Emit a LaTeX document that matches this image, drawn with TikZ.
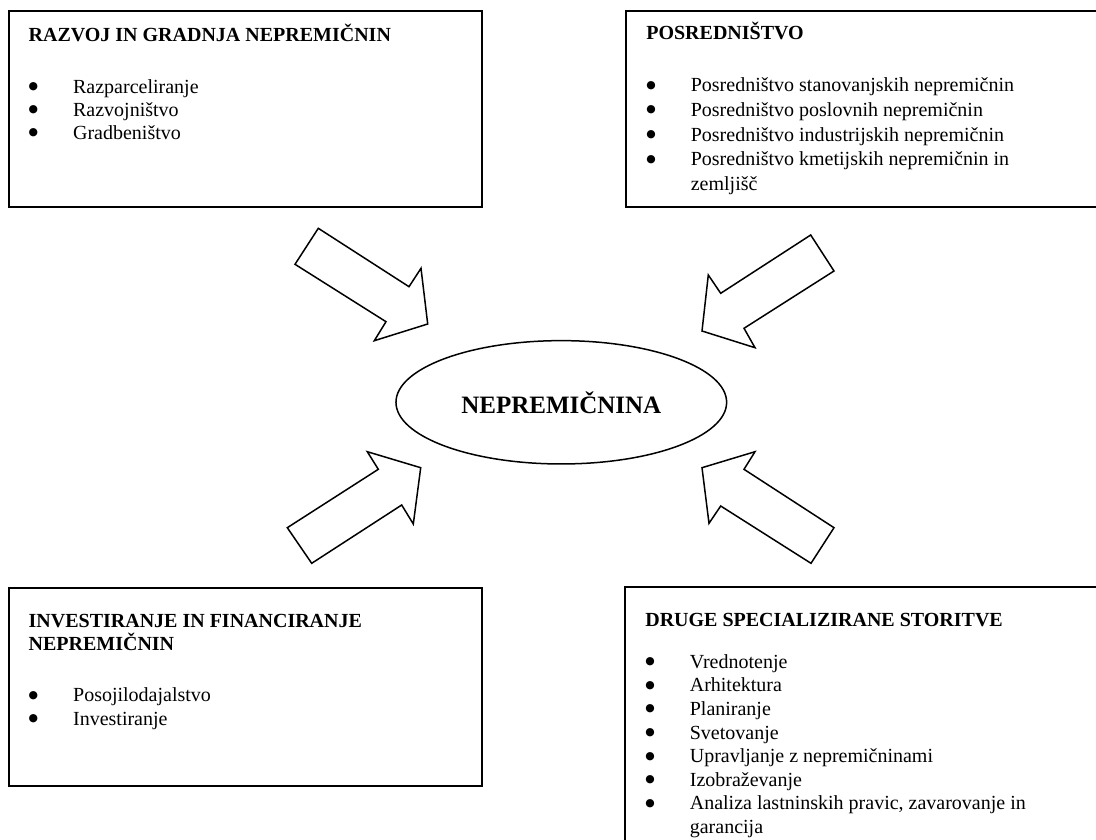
\documentclass[tikz,border=0pt]{standalone}
\usepackage{fontspec}
\setmainfont{Liberation Serif}
\newfontfamily\symfont{DejaVu Sans}
\usetikzlibrary{shapes.geometric}

\tikzset{
  box/.style={draw, rectangle, line width=1.2pt, inner sep=0pt},
  boxhead/.style={anchor=base west, inner sep=0pt, font=\fontsize{12}{14.4}\selectfont\bfseries},
  boxitem/.style={anchor=base west, inner sep=0pt, font=\fontsize{12}{14.4}\selectfont},
  inarrow/.style={draw, line width=0.9pt, line join=miter},
  centre/.style={draw, ellipse, line width=0.9pt, inner sep=0pt,
    minimum width=198.4pt, minimum height=74pt,
    font=\fontsize{15}{18}\selectfont\bfseries}
}
\newcommand{\bul}{\makebox[26.7pt][l]{\raisebox{2.2pt}{\symfont\fontsize{6.5}{7}\selectfont ●}}}

\begin{document}
\begin{tikzpicture}[x=0.6pt, y=-0.6pt]
    \clip (0,0) rectangle (1096,840);

    % the four boxes
    \node[box, minimum width=284pt, minimum height=117.8pt] (razvoj) at (245.65,109.15) {};
    \node[box, minimum width=290.6pt, minimum height=117.4pt] (posred) at (867.85,108.85) {};
    \node[box, minimum width=284pt, minimum height=118.6pt] (invest) at (245.65,687.15) {};
    \node[box, minimum width=290.8pt, minimum height=157.6pt] (druge) at (867.65,718.65) {};

    % razvoj in gradnja
    \node[boxhead] (razvoj-h) at (28.3,41.7) {RAZVOJ IN GRADNJA NEPREMIČNIN};
    \foreach \txt [count=\i] in {Razparceliranje, Razvojništvo, Gradbeništvo}
        \node[boxitem] (razvoj-\i) at (28.3,{93.3+23*(\i-1)}) {\bul\txt};

    % posredništvo
    \node[boxhead] (posred-h) at (646,40) {POSREDNIŠTVO};
    \foreach \txt [count=\i] in {Posredništvo stanovanjskih nepremičnin,
        Posredništvo poslovnih nepremičnin, Posredništvo industrijskih nepremičnin,
        Posredništvo kmetijskih nepremičnin in}
        \node[boxitem] (posred-\i) at (646,{91.7+24.7*(\i-1)}) {\bul\txt};
    \node[boxitem] (posred-5) at (690.5,190.5) {zemljišč};

    % investiranje in financiranje
    \node[boxhead] (invest-h) at (28.3,627.3) {INVESTIRANJE IN FINANCIRANJE};
    \node[boxhead] (invest-h2) at (28.3,650) {NEPREMIČNIN};
    \foreach \txt [count=\i] in {Posojilodajalstvo, Investiranje}
        \node[boxitem] (invest-\i) at (28.3,{701.7+23.3*(\i-1)}) {\bul\txt};

    % druge storitve
    \node[boxhead] (druge-h) at (645,626.7) {DRUGE SPECIALIZIRANE STORITVE};
    \foreach \txt [count=\i] in {Vrednotenje, Arhitektura, Planiranje, Svetovanje,
        Upravljanje z nepremičninami, Izobraževanje,
        {Analiza lastninskih pravic, zavarovanje in}}
        \node[boxitem] (druge-\i) at (645,{668.3+23.6*(\i-1)}) {\bul\txt};
    \node[boxitem] (druge-8) at (689.5,833.6) {garancija};

    % centre
    \node[centre] (nepr) at (561.3,402.3) {NEPREMIČNINA};

    % block arrows
    \draw[inarrow] (318.3,228.3) -- (409,286.7) -- (421,268.3) -- (427.7,324)
        -- (374.3,340.7) -- (386,321.7) -- (295,264.3) -- cycle;
    \draw[inarrow] (810.7,235) -- (834,271) -- (744,328.3) -- (755,347.7)
        -- (702,331) -- (708.3,275) -- (720.7,293.3) -- cycle;
    \draw[inarrow] (287.3,527.7) -- (378.3,469.3) -- (367.3,451.7) -- (420.7,467.7)
        -- (413.3,524) -- (401.7,505) -- (311.7,563.3) -- cycle;
    \draw[inarrow] (702,467.7) -- (755,451.7) -- (744,469.3) -- (834,527.7)
        -- (811,563.3) -- (720.7,506) -- (709,523.3) -- cycle;

\end{tikzpicture}
\end{document}
